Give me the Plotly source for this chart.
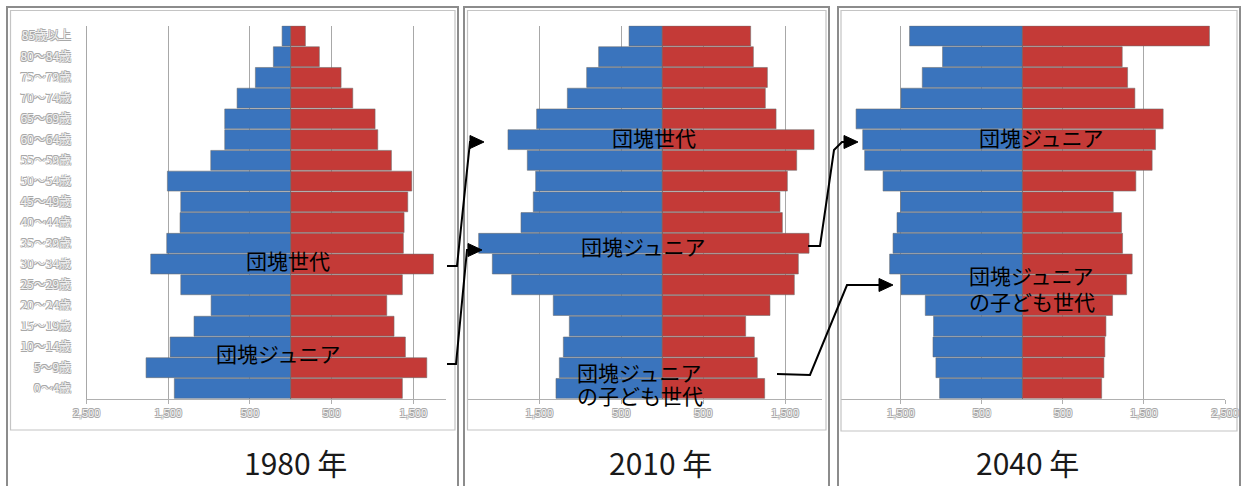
import plotly.graph_objects as go

W, H = 1242, 486

ages = ['0～4歳', '5～9歳', '10～14歳', '15～19歳', '20～24歳', '25～29歳',
        '30～34歳', '35～39歳', '40～44歳', '45～49歳', '50～54歳', '55～59歳',
        '60～64歳', '65～69歳', '70～74歳', '75～79歳', '80～84歳', '85歳以上']

male_1980 = [1425, 1771, 1477, 1184, 975, 1346, 1714, 1518, 1355, 1346, 1510, 979, 808, 808, 657, 433, 213, 106]
female_1980 = [1366, 1665, 1403, 1264, 1175, 1366, 1746, 1378, 1387, 1432, 1481, 1232, 1065, 1032, 759, 616, 350, 179]
male_2010 = [1297, 1256, 1207, 1134, 1330, 1838, 2074, 2241, 1724, 1574, 1545, 1647, 1883, 1533, 1158, 922, 776, 405]
female_2010 = [1251, 1161, 1125, 1019, 1316, 1613, 1662, 1793, 1467, 1438, 1528, 1642, 1854, 1390, 1259, 1284, 1113, 1080]
male_2040 = [1022, 1067, 1103, 1096, 1198, 1498, 1638, 1596, 1547, 1502, 1719, 1946, 1970, 2052, 1498, 1235, 985, 1392]
female_2040 = [978, 1006, 1018, 1031, 1113, 1286, 1355, 1236, 1224, 1121, 1400, 1601, 1643, 1737, 1388, 1298, 1232, 2308]

years = ['1980 年', '2010 年', '2040 年']
tick_vals = [-2500, -1500, -500, 500, 1500, 2500]
tick_text = ['2,500', '1,500', '500', '500', '1,500', '2,500']

BLUE = '#3a74bd'
RED = '#c43a37'


def px(x):
    return x / W


def py(y):
    return 1 - y / H


fig = go.Figure()

series = [(male_1980, female_1980), (male_2010, female_2010), (male_2040, female_2040)]
for i, (m, f) in enumerate(series):
    sfx = '' if i == 0 else str(i + 1)
    fig.add_trace(go.Bar(y=ages, x=[-v for v in m], orientation='h',
                         marker=dict(color=BLUE, line=dict(color='rgba(110,110,110,0.7)', width=0.8)),
                         xaxis='x' + sfx, yaxis='y' + sfx, showlegend=False))
    fig.add_trace(go.Bar(y=ages, x=f, orientation='h',
                         marker=dict(color=RED, line=dict(color='rgba(110,110,110,0.7)', width=0.8)),
                         xaxis='x' + sfx, yaxis='y' + sfx, showlegend=False))

tick_font = dict(family='Liberation Sans', size=11, color='#f4f4f4',
                 shadow='0.7px 0.7px 0 #a6a6a6, -0.7px -0.7px 0 #a6a6a6, 0.7px -0.7px 0 #a6a6a6, -0.7px 0.7px 0 #a6a6a6')
ylab_font = dict(family='Noto Sans CJK JP', size=12, color='#f4f4f4',
                 shadow='0.7px 0.7px 0 #a8a8a8, -0.7px -0.7px 0 #a8a8a8, 0.7px -0.7px 0 #a8a8a8, -0.7px 0.7px 0 #a8a8a8')

# plot area pixel geometry
ydom = [py(398.8), py(25.6)]
xgeo = [
    ((86.5, 446), [-2500, 1900]),
    ((468, 822), [-2371, 1951]),
    ((841, 1225), [-2238, 2500]),
]

for i, ((a, b), rng) in enumerate(xgeo):
    sfx = '' if i == 0 else str(i + 1)
    fig.layout['xaxis' + sfx] = dict(
        domain=[px(a), px(b)], range=rng, anchor='y' + sfx, automargin=False,
        tickvals=tick_vals, ticktext=tick_text, tickfont=tick_font,
        showgrid=True, gridcolor='#a8a8a8', gridwidth=1,
        showline=True, linecolor='#b0b0b0', linewidth=1,
        ticks='outside', ticklen=4, tickcolor='#b0b0b0',
        zeroline=True, zerolinecolor='#8a8a8a', zerolinewidth=1,
        fixedrange=True)
    fig.layout['yaxis' + sfx] = dict(
        domain=ydom, anchor='x' + sfx, type='category', automargin=False,
        categoryorder='array', categoryarray=ages,
        showticklabels=(i == 0), tickfont=ylab_font, ticks='',
        ticklabelstandoff=12,
        showline=(i == 0), linecolor='#a8a8a8', linewidth=1,
        showgrid=False, fixedrange=True)

shapes = []
# panel frames (outer double border + inner chart border)
frames = [((7, 458), (10.5, 455, 430)), ((464, 829), (467.5, 826, 430)), ((838, 1240), (841, 1237, 431))]
for (ox0, ox1), (ix0, ix1, iy1) in frames:
    shapes.append(dict(type='rect', xref='paper', yref='paper', x0=px(ox0), x1=px(ox1), y0=py(495), y1=py(7),
                       line=dict(color='#8c8c8c', width=2), layer='above'))
    shapes.append(dict(type='rect', xref='paper', yref='paper', x0=px(ix0), x1=px(ix1), y0=py(iy1), y1=py(10.5),
                       line=dict(color='#c4c4c4', width=1.2), layer='above'))

# connector lines
paths = [
    [(447, 266), (457, 266), (470, 142), (474, 142)],
    [(447, 364), (456, 364), (467, 250), (470, 250)],
    [(808, 246), (820, 246), (834, 150), (842, 142), (846, 142)],
    [(777, 374), (810, 375), (847, 285), (880, 285)],
]
tips = [(484, 142), (482, 250), (858, 142), (893, 285)]
for pts, (tx, ty) in zip(paths, tips):
    d = 'M ' + ' L '.join(f'{px(x):.5f},{py(y):.5f}' for x, y in pts)
    shapes.append(dict(type='path', xref='paper', yref='paper', path=d,
                       line=dict(color='black', width=2), layer='above'))
    tri = (f'M {px(tx):.5f},{py(ty):.5f} L {px(tx - 14):.5f},{py(ty - 6.5):.5f} '
           f'L {px(tx - 14):.5f},{py(ty + 6.5):.5f} Z')
    shapes.append(dict(type='path', xref='paper', yref='paper', path=tri,
                       fillcolor='black', line=dict(color='black', width=1), layer='above'))

ann_font = dict(family='Noto Sans CJK JP', size=21, color='black')
labels = [
    ('団塊世代', 288, 260, 'center'),
    ('団塊ジュニア', 278, 353, 'center'),
    ('団塊世代', 654, 137, 'center'),
    ('団塊ジュニア', 643, 246, 'center'),
    ('団塊ジュニア', 575, 372, 'left'),
    ('の子ども世代', 575, 395, 'left'),
    ('団塊ジュニア', 1041, 137, 'center'),
    ('団塊ジュニア', 967, 275, 'left'),
    ('の子ども世代', 967, 301, 'left'),
]
annotations = []
for t, x, y, al in labels:
    annotations.append(dict(text=t, x=px(x), y=py(y), xref='paper', yref='paper',
                            xanchor=al, yanchor='middle', showarrow=False, font=ann_font))

year_x = [295, 660, 1027]
for t, x in zip(years, year_x):
    annotations.append(dict(text=t, x=px(x), y=py(462), xref='paper', yref='paper',
                            xanchor='center', yanchor='middle', showarrow=False,
                            font=dict(family='Noto Sans CJK JP', size=30, color='#1a1a1a')))

fig.update_layout(
    width=W, height=H, autosize=False,
    margin=dict(l=0, r=0, t=0, b=0, pad=0),
    paper_bgcolor='white', plot_bgcolor='white',
    barmode='relative', bargap=0.04,
    shapes=shapes, annotations=annotations,
)

fig.write_html('out.html', config={'displayModeBar': False, 'responsive': False},
               post_script="document.body.style.margin='0';document.body.style.overflow='hidden';")
